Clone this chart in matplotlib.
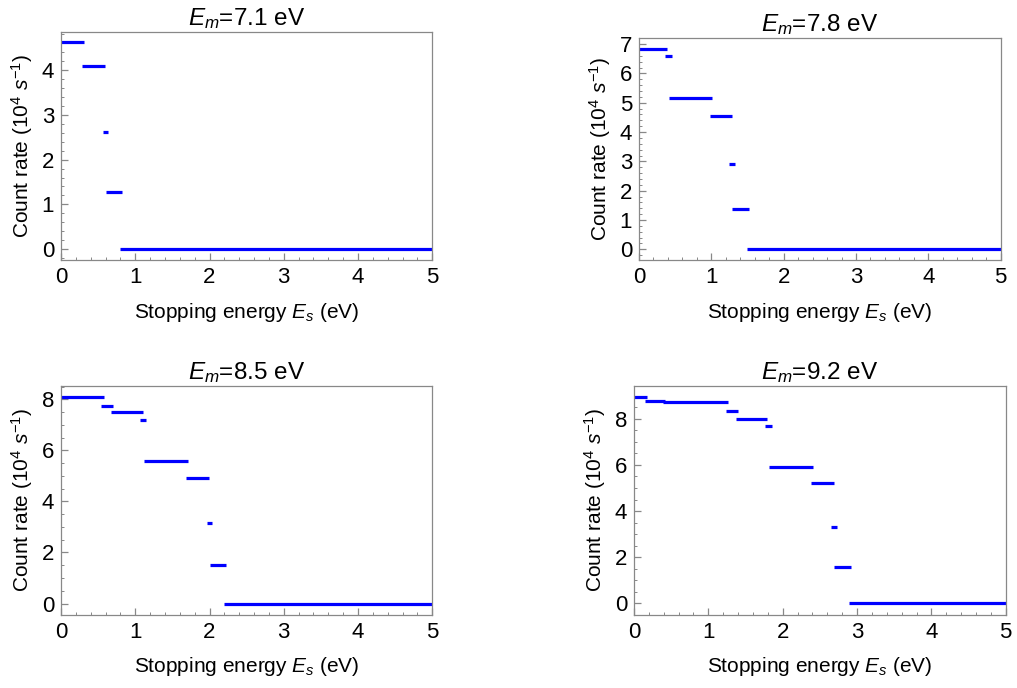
import matplotlib
matplotlib.use("Agg")
import matplotlib.pyplot as plt
from matplotlib.ticker import MultipleLocator

plt.rcParams['font.family'] = ['Liberation Sans', 'DejaVu Sans']
plt.rcParams['mathtext.fontset'] = 'custom'
plt.rcParams['mathtext.rm'] = 'Liberation Sans'
plt.rcParams['mathtext.it'] = 'Liberation Sans:italic'

# stopping energy segments (start, end) and count rate (10^4 s^-1)
em_labels = ["7.1", "7.8", "8.5", "9.2"]

x0_71 = [0.00, 0.28, 0.56, 0.60, 0.79]
x1_71 = [0.31, 0.59, 0.63, 0.82, 5.00]
rate_71 = [4.62, 4.09, 2.62, 1.27, 0.0]

x0_78 = [0.00, 0.36, 0.42, 0.98, 1.25, 1.29, 1.49]
x1_78 = [0.39, 0.45, 1.01, 1.29, 1.33, 1.52, 5.00]
rate_78 = [6.85, 6.58, 5.16, 4.55, 2.91, 1.39, 0.0]

x0_85 = [0.00, 0.54, 0.67, 1.06, 1.12, 1.68, 1.96, 2.00, 2.19]
x1_85 = [0.575, 0.70, 1.10, 1.15, 1.71, 1.99, 2.03, 2.22, 5.00]
rate_85 = [8.09, 7.76, 7.49, 7.18, 5.58, 4.92, 3.14, 1.50, 0.0]

x0_92 = [0.00, 0.15, 0.385, 1.24, 1.37, 1.76, 1.82, 2.38, 2.65, 2.69, 2.89]
x1_92 = [0.175, 0.42, 1.27, 1.40, 1.79, 1.85, 2.41, 2.69, 2.73, 2.92, 5.00]
rate_92 = [8.95, 8.78, 8.71, 8.33, 8.00, 7.67, 5.92, 5.21, 3.32, 1.59, 0.0]

panels = [
    (x0_71, x1_71, rate_71, (-0.25, 4.86), 1, 0.2, [0.060, 0.6217, 0.365, 0.3323]),
    (x0_78, x1_78, rate_78, (-0.375, 7.22), 1, 0.2, [0.6283, 0.6217, 0.3557, 0.3235]),
    (x0_85, x1_85, rate_85, (-0.44, 8.54), 2, 0.5, [0.060, 0.1065, 0.365, 0.3329]),
    (x0_92, x1_92, rate_92, (-0.49, 9.43), 2, 0.5, [0.6234, 0.1065, 0.3655, 0.3329]),
]

fig = plt.figure(figsize=(10.17, 6.88), dpi=100)
frame = '#888888'

for (x0, x1, rate, ylim, ymaj, ymin, rect), em in zip(panels, em_labels):
    ax = fig.add_axes(rect)
    ax.hlines(rate, x0, x1, colors='#0000ff', linewidth=2.3, capstyle='butt')
    ax.set_xlim(0, 5)
    ax.set_ylim(*ylim)
    ax.xaxis.set_major_locator(MultipleLocator(1))
    ax.xaxis.set_minor_locator(MultipleLocator(0.2))
    ax.yaxis.set_major_locator(MultipleLocator(ymaj))
    ax.yaxis.set_minor_locator(MultipleLocator(ymin))
    ax.tick_params(which='both', direction='in', color=frame, labelsize=16,
                   top=False, right=False)
    ax.tick_params(which='major', length=5, width=0.9, pad=5)
    ax.tick_params(which='minor', length=2.5, width=0.7)
    for s in ax.spines.values():
        s.set_color(frame)
        s.set_linewidth(0.9)
    ax.set_title(r'$E_m$=' + em + ' eV', fontsize=17.5, pad=5)
    ax.set_xlabel(r'Stopping energy $E_s$ (eV)', fontsize=15, labelpad=9)
    ax.set_ylabel(r'Count rate (10$^4$ $s^{-1}$)', fontsize=15, labelpad=5)

fig.savefig('out.png', dpi=100)
